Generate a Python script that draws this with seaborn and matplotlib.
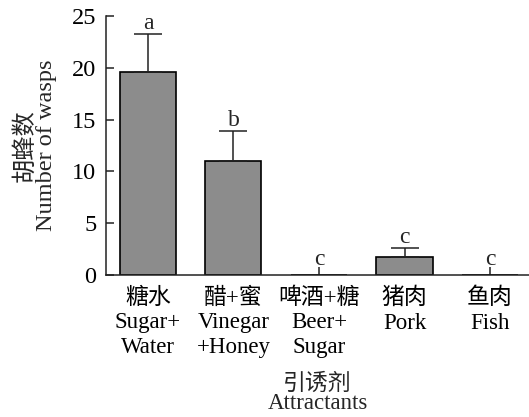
import matplotlib
matplotlib.use("Agg")
import matplotlib.pyplot as plt
import seaborn as sns
import pandas as pd

# Attractant trial: mean wasp counts with standard errors and significance letters
attractants = ["糖水\nSugar+\nWater", "醋+蜜\nVinegar\n+Honey", "啤酒+糖\nBeer+\nSugar",
               "猪肉\nPork", "鱼肉\nFish"]
wasp_counts = [19.6, 11.0, 0.0, 1.75, 0.0]
std_errors = [3.7, 2.9, 0.0, 0.85, 0.0]
sig_letters = ["a", "b", "c", "c", "c"]
y_ticks = [0, 5, 10, 15, 20, 25]

sns.set_theme(style="ticks")
plt.rcParams["font.family"] = ["Liberation Serif", "Noto Sans CJK SC"]
plt.rcParams["font.size"] = 16.5

df = pd.DataFrame({"attractant": attractants, "count": wasp_counts})

fig = plt.figure(figsize=(5.29, 4.17), dpi=100)
ax = fig.add_axes([106 / 529, (417 - 275) / 417, 1 - 106 / 529, 259 / 417])

sns.barplot(data=df, x="attractant", y="count", color="#8c8c8c", saturation=1,
            edgecolor="black", linewidth=1.2, width=0.655, errorbar=None, ax=ax)

for i, (m, e) in enumerate(zip(wasp_counts, std_errors)):
    if e > 0:
        ax.errorbar(i, m, yerr=[[0], [e]], fmt="none", ecolor="#222222",
                    elinewidth=1.1, capsize=10.4, capthick=1.1, zorder=3)
    offset = 3.3 if e > 0 else 7.5
    ax.annotate(sig_letters[i], (i, m + e), xytext=(0, offset),
                textcoords="offset points", ha="center", va="baseline",
                fontsize=17)

ax.set_xlim(-0.491, 4.456)
ax.set_ylim(0, 25)
ax.set_yticks(y_ticks)
ax.set_yticklabels([str(t) for t in y_ticks])
sns.despine(ax=ax, top=True, right=True)
for s in ("left", "bottom"):
    ax.spines[s].set_linewidth(1.1)
    ax.spines[s].set_color("#222222")

ax.tick_params(axis="both", direction="in", length=5.5, width=1.1, color="#222222",
               labelcolor="black")
ax.tick_params(axis="y", pad=7, labelsize=17.5)
ax.tick_params(axis="x", pad=9, labelsize=16.5)
for lab in ax.get_xticklabels():
    lab.set_linespacing(1.22)

ax.set_ylabel("胡蜂数\nNumber of wasps", fontsize=17.5, linespacing=0.95)
ax.yaxis.set_label_coords(-0.116, 0.5)
ax.set_xlabel("引诱剂\nAttractants", fontsize=16.5, linespacing=0.88)
ax.xaxis.set_label_coords(0.5, -0.38)

fig.savefig("out.png", dpi=100)
